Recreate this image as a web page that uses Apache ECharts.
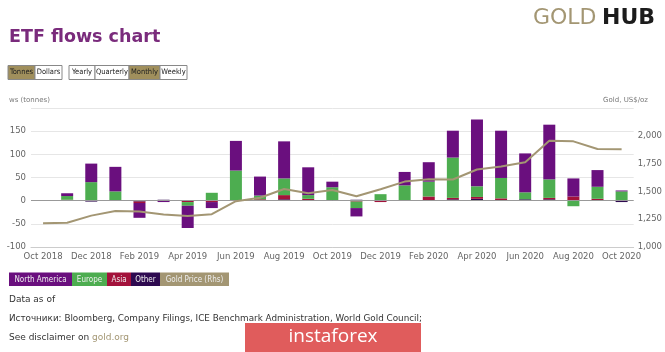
<!DOCTYPE html>
<html><head><meta charset="utf-8">
<script src="https://cdn.jsdelivr.net/npm/echarts@6/dist/echarts.min.js"></script>
<style>html,body{margin:0;padding:0;background:#fff}#c{width:665px;height:352px}</style>
</head><body><div id="c"></div>
<script>
const months = ['Oct 2018','Nov 2018','Dec 2018','Jan 2019','Feb 2019','Mar 2019','Apr 2019','May 2019','Jun 2019','Jul 2019','Aug 2019','Sep 2019','Oct 2019','Nov 2019','Dec 2019','Jan 2020','Feb 2020','Mar 2020','Apr 2020','May 2020','Jun 2020','Jul 2020','Aug 2020','Sep 2020','Oct 2020'];
const northAmerica = [0, 6, 40, 53, -32, -3, -48, -13, 64, 41, 80, 60, 12, -18, 0, 29, 42, 58, 144, 102, 84, 118, 39, 36, 2];
const europe =       [0, 8, 40, 20, 0, 0, -8, 17, 65, 8, 36, 8, 28, -14, 14, 33, 32, 87, 23, 44, 15, 40, -12, 26, 20];
const asia =         [0, 2, 0, 0, -3, 0, -3, -3, 0, 3, 9, 4, 0, -2, -3, 0, 9, 3, 4, 4, 0, 3, 9, 4, 0];
const other =        [0, 0, -2, 0, -2, 2, 0, 0, 0, 0, 3, 0, 1, 2, 0, 0, 0, 3, 4, 1, 3, 3, 0, 0, -3];
const goldPrice =    [1213, 1218, 1282, 1323, 1320, 1293, 1278, 1295, 1412, 1443, 1521, 1484, 1512, 1456, 1520, 1588, 1610, 1607, 1697, 1723, 1762, 1955, 1950, 1881, 1878];
const leftTicks = [-100, 200, 50];
const rightTicks = [1000, 2250, 250];

const C = {na:'#6a0f7e', eu:'#4dad50', asia:'#a3123b', other:'#2e0a50', gold:'#a39673'};
const F = 'DejaVu Sans';
const NF = '"DejaVu Sans Condensed","Liberation Sans Narrow","Noto Sans"';
const chart = echarts.init(document.getElementById('c'));

function btn(x, w, label, active) {
  return [
    {type:'rect', shape:{x:x, y:65.5, width:w, height:14}, style:{fill: active ? '#a08f5c' : '#fff', stroke:'#888', lineWidth:1}},
    {type:'text', x:x + w/2, y:72.5, style:{text:label, font:'7.5px ' + NF, fill:'#222', textAlign:'center', textVerticalAlign:'middle'}}
  ];
}
function leg(x, w, label, fill, txt) {
  return [
    {type:'rect', shape:{x:x, y:272.5, width:w, height:13.5}, style:{fill:fill}},
    {type:'text', x:x + w/2, y:279.5, style:{text:label, font:'8px ' + NF, fill:txt, textAlign:'center', textVerticalAlign:'middle'}}
  ];
}
const g = [].concat(
  [{type:'text', x:9, y:37, style:{text:'ETF flows chart', font:'bold 17.5px "DejaVu Sans"', fill:'#7a2b7c', textVerticalAlign:'middle'}}],
  [{type:'text', x:533, y:18, style:{text:'GOLD', font:'22px "DejaVu Sans"', fill:'#a39673', textVerticalAlign:'middle'}},
   {type:'text', x:602, y:18, style:{text:'HUB', font:'bold 22px "DejaVu Sans"', fill:'#1c1c1c', textVerticalAlign:'middle'}}],
  btn(8, 27, 'Tonnes', true), btn(35, 27, 'Dollars', false),
  btn(69, 26, 'Yearly', false), btn(95, 34, 'Quarterly', false), btn(129, 31, 'Monthly', true), btn(160, 27, 'Weekly', false),
  [{type:'text', x:9, y:100, style:{text:'ws (tonnes)', font:'7px "DejaVu Sans"', fill:'#777', textVerticalAlign:'middle'}},
   {type:'text', x:648, y:100, style:{text:'Gold, US$/oz', font:'7px "DejaVu Sans"', fill:'#777', textAlign:'right', textVerticalAlign:'middle'}}],
  leg(9, 63, 'North America', C.na, '#eee'), leg(72, 35, 'Europe', C.eu, '#eee'), leg(107, 24, 'Asia', C.asia, '#eee'),
  leg(131, 29, 'Other', C.other, '#eee'), leg(160, 69, 'Gold Price (Rhs)', C.gold, '#eee'),
  [{type:'text', x:9, y:300, style:{text:'Data as of', font:'9px "DejaVu Sans"', fill:'#333', textVerticalAlign:'middle'}},
   {type:'text', x:9, y:319, style:{text:'Источники: Bloomberg, Company Filings, ICE Benchmark Administration, World Gold Council;', font:'8.8px "DejaVu Sans"', fill:'#333', textVerticalAlign:'middle'}},
   {type:'text', x:9, y:338, style:{rich:{a:{fill:'#333', font:'9px "DejaVu Sans"'}, b:{fill:'#a39673', font:'9px "DejaVu Sans"'}}, text:'{a|See disclaimer on }{b|gold.org}', textVerticalAlign:'middle'}},
   {type:'rect', z:100, shape:{x:245, y:323, width:176, height:29}, style:{fill:'#e05c5c'}},
   {type:'text', z:101, x:333, y:337, style:{text:'instaforex', font:'19px "Open Sans"', fill:'#fff', textAlign:'center', textVerticalAlign:'middle'}}]
);

function bar(name, data, color, extra) {
  return Object.assign({name, type:'bar', stack:'flows', data, barWidth:12, itemStyle:{color}, emphasis:{disabled:true}}, extra || {});
}

chart.setOption({
  animation:false,
  textStyle:{fontFamily:F},
  grid:{left:31, right:30, top:108, bottom:105},
  xAxis:{type:'category', data:months, axisLine:{onZero:false, lineStyle:{color:'#ccc'}}, axisTick:{show:false},
    axisLabel:{interval:1, color:'#666', fontSize:8.5, margin:5}},
  yAxis:[
    {type:'value', min:leftTicks[0], max:leftTicks[1], interval:leftTicks[2], splitLine:{lineStyle:{color:'#e6e6e6'}},
     axisLabel:{color:'#666', fontSize:8.5, margin:5, formatter:v => v === leftTicks[1] ? '' : String(v)}},
    {type:'value', min:rightTicks[0], max:rightTicks[1], interval:rightTicks[2], position:'right', splitLine:{show:false},
     axisLabel:{color:'#666', fontSize:8.5, margin:4, formatter:v => v === rightTicks[1] ? '' : v.toLocaleString('en-US')}}
  ],
  series:[
    bar('Other', other, C.other, {markLine:{silent:true, symbol:'none', label:{show:false}, lineStyle:{color:'#999', type:'solid', width:1}, data:[{yAxis:0}]}}),
    bar('Asia', asia, C.asia),
    bar('Europe', europe, C.eu),
    bar('North America', northAmerica, C.na),
    {name:'Gold Price (Rhs)', type:'line', yAxisIndex:1, data:goldPrice, symbol:'none', lineStyle:{color:C.gold, width:2}, itemStyle:{color:C.gold}, z:5}
  ],
  graphic:g
});
</script></body></html>
